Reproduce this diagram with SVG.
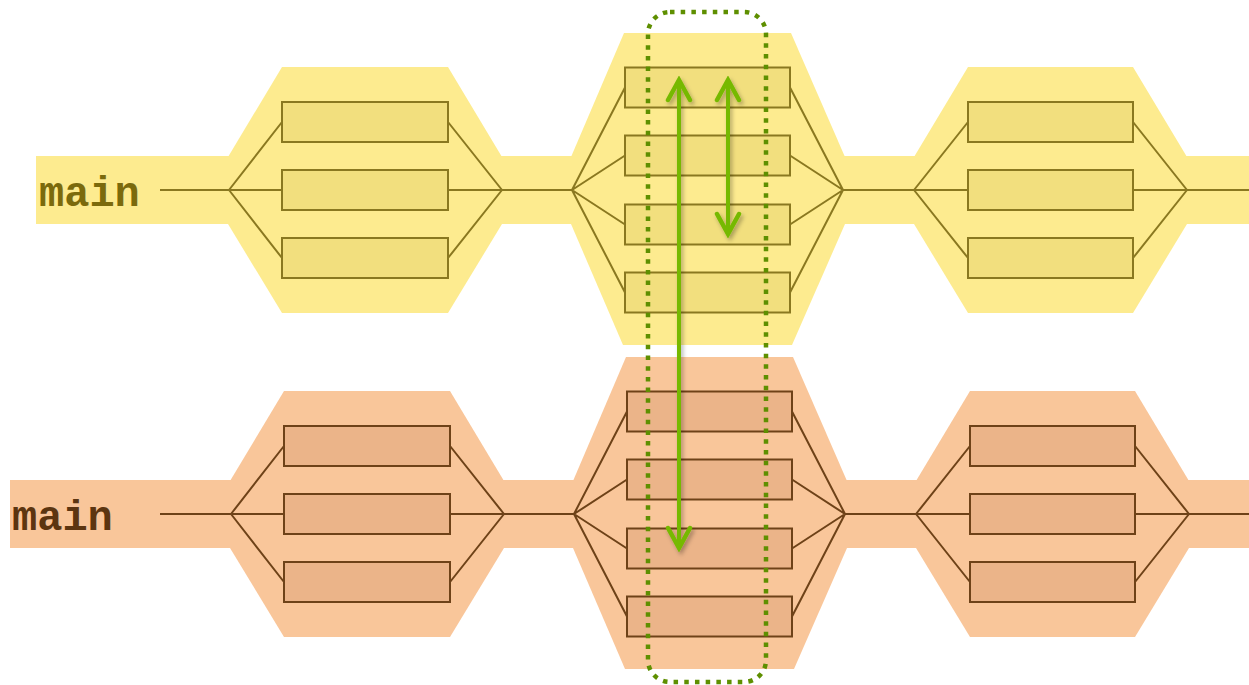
<svg xmlns="http://www.w3.org/2000/svg" width="1249" height="685" viewBox="0 0 1249 685">
  <style>
    .band-y { fill: #FDEB8F; }
    .band-o { fill: #F9C69A; }
    .hex-y { fill: #FDEB8F; }
    .hex-o { fill: #F9C69A; }
    .box-y { fill: #F2DF7E; stroke: #8A7820; stroke-width: 2; }
    .box-o { fill: #EBB489; stroke: #6E4218; stroke-width: 2; }
    .wire-y { fill: none; stroke: #8A7820; stroke-width: 2; }
    .wire-o { fill: none; stroke: #6E4218; stroke-width: 2; }
    .label { font-family: "Liberation Mono", "Courier New", monospace; font-size: 42px; font-weight: bold; }
    .label-y { fill: #7B6A0C; }
    .label-o { fill: #5C3510; }
    .span { fill: none; stroke: #5E8F00; stroke-width: 4.5; stroke-dasharray: 4.5 6.2; }
    .arrow { fill: none; stroke: #76B900; stroke-width: 4; marker-start: url(#chev); marker-end: url(#chev); }
  </style>
  <defs>
    <marker id="chev" viewBox="-24 -14 28 28" markerWidth="28" markerHeight="28" refX="0" refY="0" markerUnits="userSpaceOnUse" orient="auto-start-reverse">
      <path d="M-20,-11 L0,0 L-20,11" fill="none" stroke="#76B900" stroke-width="4.5" stroke-linecap="round" stroke-linejoin="miter"/>
    </marker>
    <filter id="soft" x="-50%" y="-5%" width="200%" height="110%">
      <feDropShadow dx="2" dy="3" stdDeviation="2" flood-color="#000" flood-opacity="0.3"/>
    </filter>
  </defs>

  <!-- upper timeline -->
  <g id="main-top">
    <rect class="band-y" x="36" y="156" width="1213" height="68"/>
    <text class="label label-y" x="39" y="206">main</text>
  </g>
  <g id="stage-top-1">
    <polygon class="hex-y" points="282,67 448,67 502,157 502,224 448,313 282,313 228,224 228,157"/>
  </g>
  <g id="stage-top-2">
    <polygon class="hex-y" points="624,33 791,33 845,157 845,224 792,345 623,345 571,224 571,157"/>
  </g>
  <g id="stage-top-3">
    <polygon class="hex-y" points="968,67 1133,67 1187,157 1187,224 1133,313 968,313 914,224 914,157"/>
  </g>

  <!-- lower timeline -->
  <g id="main-bottom">
    <rect class="band-o" x="10" y="480" width="1239" height="68"/>
    <text class="label label-o" x="12" y="530">main</text>
  </g>
  <g transform="translate(2,324)">
    <g id="stage-bottom-1">
      <polygon class="hex-o" points="282,67 448,67 502,157 502,224 448,313 282,313 228,224 228,157"/>
    </g>
    <g id="stage-bottom-2">
      <polygon class="hex-o" points="624,33 791,33 845,157 845,224 792,345 623,345 571,224 571,157"/>
    </g>
    <g id="stage-bottom-3">
      <polygon class="hex-o" points="968,67 1133,67 1187,157 1187,224 1133,313 968,313 914,224 914,157"/>
    </g>
  </g>

  <!-- connectors: main line, forks and joins -->
  <g id="connectors">
    <g class="wire-y">
      <path d="M160,190 H229 M502,190 H572 M843,190 H914 M1187,190 H1249"/>
      <path d="M229,190 L282,122 M229,190 H282 M229,190 L282,258 M502,190 L448,122 M502,190 H448 M502,190 L448,258"/>
      <path d="M572,190 L625,87.5 M572,190 L625,155.5 M572,190 L625,224.5 M572,190 L625,292.5 M843,190 L790,87.5 M843,190 L790,155.5 M843,190 L790,224.5 M843,190 L790,292.5"/>
      <path d="M914,190 L968,122 M914,190 H968 M914,190 L968,258 M1187,190 L1133,122 M1187,190 H1133 M1187,190 L1133,258"/>
    </g>
    <g class="wire-o" transform="translate(2,324)">
      <path d="M158,190 H229 M502,190 H572 M843,190 H914 M1187,190 H1249"/>
      <path d="M229,190 L282,122 M229,190 H282 M229,190 L282,258 M502,190 L448,122 M502,190 H448 M502,190 L448,258"/>
      <path d="M572,190 L625,87.5 M572,190 L625,155.5 M572,190 L625,224.5 M572,190 L625,292.5 M843,190 L790,87.5 M843,190 L790,155.5 M843,190 L790,224.5 M843,190 L790,292.5"/>
      <path d="M914,190 L968,122 M914,190 H968 M914,190 L968,258 M1187,190 L1133,122 M1187,190 H1133 M1187,190 L1133,258"/>
    </g>
  </g>

  <!-- task boxes -->
  <g id="tasks-top">
    <g id="task-t1-a"><rect class="box-y" x="282" y="102" width="166" height="40"/></g>
    <g id="task-t1-b"><rect class="box-y" x="282" y="170" width="166" height="40"/></g>
    <g id="task-t1-c"><rect class="box-y" x="282" y="238" width="166" height="40"/></g>
    <g id="task-t2-a"><rect class="box-y" x="625" y="67.5" width="165" height="40"/></g>
    <g id="task-t2-b"><rect class="box-y" x="625" y="135.5" width="165" height="40"/></g>
    <g id="task-t2-c"><rect class="box-y" x="625" y="204.5" width="165" height="40"/></g>
    <g id="task-t2-d"><rect class="box-y" x="625" y="272.5" width="165" height="40"/></g>
    <g id="task-t3-a"><rect class="box-y" x="968" y="102" width="165" height="40"/></g>
    <g id="task-t3-b"><rect class="box-y" x="968" y="170" width="165" height="40"/></g>
    <g id="task-t3-c"><rect class="box-y" x="968" y="238" width="165" height="40"/></g>
  </g>
  <g id="tasks-bottom" transform="translate(2,324)">
    <g id="task-b1-a"><rect class="box-o" x="282" y="102" width="166" height="40"/></g>
    <g id="task-b1-b"><rect class="box-o" x="282" y="170" width="166" height="40"/></g>
    <g id="task-b1-c"><rect class="box-o" x="282" y="238" width="166" height="40"/></g>
    <g id="task-b2-a"><rect class="box-o" x="625" y="67.5" width="165" height="40"/></g>
    <g id="task-b2-b"><rect class="box-o" x="625" y="135.5" width="165" height="40"/></g>
    <g id="task-b2-c"><rect class="box-o" x="625" y="204.5" width="165" height="40"/></g>
    <g id="task-b2-d"><rect class="box-o" x="625" y="272.5" width="165" height="40"/></g>
    <g id="task-b3-a"><rect class="box-o" x="968" y="102" width="165" height="40"/></g>
    <g id="task-b3-b"><rect class="box-o" x="968" y="170" width="165" height="40"/></g>
    <g id="task-b3-c"><rect class="box-o" x="968" y="238" width="165" height="40"/></g>
  </g>

  <!-- highlighted column -->
  <g id="column-highlight">
    <rect class="span" x="648" y="12" width="118" height="670" rx="22"/>
  </g>

  <!-- dependency arrows -->
  <g id="dependency-arrows" filter="url(#soft)">
    <line class="arrow" x1="679" y1="80" x2="679" y2="548"/>
    <line class="arrow" x1="728" y1="80" x2="728" y2="234"/>
  </g>
</svg>
